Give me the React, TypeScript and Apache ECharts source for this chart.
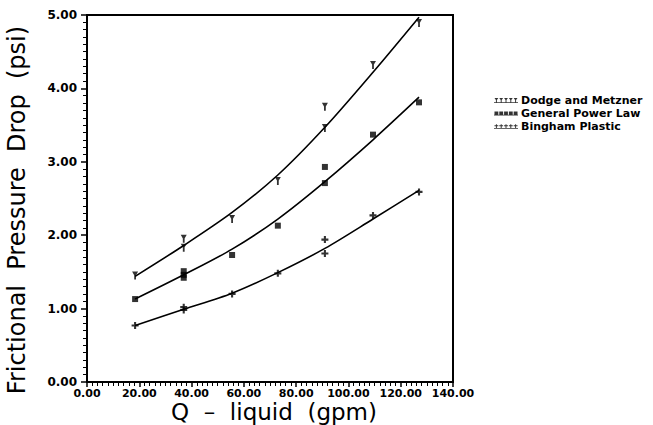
import React, { useEffect, useRef } from "react";
import * as echarts from "echarts";

const xTicks = [0, 20, 40, 60, 80, 100, 120, 140];
const yTicks = [0, 1, 2, 3, 4, 5];

const dodgeName = "Dodge and Metzner";
const powerName = "General Power Law";
const binghamName = "Bingham Plastic";

// measured points
const dodgePts: [number, number][] = [
  [18.4, 1.45], [37, 1.95], [37, 1.83], [55.5, 2.22], [73, 2.74], [91, 3.75], [91, 3.46], [109.4, 4.32], [127, 4.89],
];
const powerPts: [number, number][] = [
  [18.4, 1.13], [37, 1.51], [37, 1.46], [37, 1.42], [55.5, 1.73], [73, 2.13], [91, 2.93], [91, 2.71], [109.4, 3.37], [127, 3.81],
];
const binghamPts: [number, number][] = [
  [18.4, 0.77], [37, 1.02], [37, 0.98], [55.5, 1.2], [73, 1.48], [91, 1.94], [91, 1.75], [109.4, 2.27], [127, 2.59],
];

// fitted curves
const fitX = [18.4, 37, 55.5, 73, 91, 109.4, 127];
const dodgeFit = [1.44, 1.86, 2.31, 2.82, 3.47, 4.22, 4.97];
const powerFit = [1.13, 1.46, 1.81, 2.22, 2.73, 3.3, 3.88];
const binghamFit = [0.77, 0.99, 1.21, 1.49, 1.82, 2.22, 2.61];

const daggerSym = "path://M0,0L10,0L6.5,6L6.5,13L3.5,13L3.5,6Z";
const squareSym = "path://M0,0L10,0L10,10L0,10Z";
const plusSym = "path://M3.5,0L6.5,0L6.5,3.5L10,3.5L10,6.5L6.5,6.5L6.5,10L3.5,10L3.5,6.5L0,6.5L0,3.5L3.5,3.5Z";

const legendDagger =
  "path://M0,9L50,9L50,10.5L0,10.5Z M1,0L9,0L6,4L6,9L4,9L4,4Z M11,0L19,0L16,4L16,9L14,9L14,4Z M21,0L29,0L26,4L26,9L24,9L24,4Z M31,0L39,0L36,4L36,9L34,9L34,4Z M41,0L49,0L46,4L46,9L44,9L44,4Z";
const legendSquare =
  "path://M0,9L50,9L50,10.5L0,10.5Z M1,2L9,2L9,9L1,9Z M11,2L19,2L19,9L11,9Z M21,2L29,2L29,9L21,9Z M31,2L39,2L39,9L31,9Z M41,2L49,2L49,9L41,9Z";
const legendPlus =
  "path://M0,9L50,9L50,10.5L0,10.5Z M1,3L9,3L9,5L1,5Z M4,1L6,1L6,9L4,9Z M11,3L19,3L19,5L11,5Z M14,1L16,1L16,9L14,9Z M21,3L29,3L29,5L21,5Z M24,1L26,1L26,9L24,9Z M31,3L39,3L39,5L31,5Z M34,1L36,1L36,9L34,9Z M41,3L49,3L49,5L41,5Z M44,1L46,1L46,9L44,9Z";

const FONT = "DejaVu Sans";

export default function App() {
  const ref = useRef<HTMLDivElement>(null);
  useEffect(() => {
    document.body.style.margin = "0";
    const chart = echarts.init(ref.current!, null, { renderer: "svg" });
    const fitLine = (name: string, ys: number[]) => ({
      name,
      type: "line",
      data: fitX.map((x, i) => [x, ys[i]]),
      smooth: 0.3,
      showSymbol: false,
      lineStyle: { color: "#000", width: 1.6 },
      z: 2,
    });
    const pts = (name: string, d: [number, number][], symbol: string, size: any) => ({
      name,
      type: "scatter",
      data: d,
      symbol,
      symbolSize: size,
      itemStyle: { color: "#000" },
      z: 3,
    });
    chart.setOption({
      animation: false,
      backgroundColor: "#fff",
      grid: {
        left: 87,
        right: 200,
        top: 15,
        bottom: 43,
        show: true,
        borderColor: "#000",
        borderWidth: 2,
      },
      legend: {
        orient: "vertical",
        left: 489,
        top: 89,
        itemGap: 0,
        itemWidth: 24,
        itemHeight: 8,
        textStyle: {
          fontFamily: FONT,
          fontSize: 11,
          lineHeight: 13,
          fontWeight: "bold",
          color: "#000",
          padding: [0, 0, 0, -2],
        },
        data: [
          { name: dodgeName, icon: legendDagger },
          { name: powerName, icon: legendSquare },
          { name: binghamName, icon: legendPlus },
        ],
        selectedMode: false,
      },
      xAxis: {
        type: "value",
        min: xTicks[0],
        max: xTicks[xTicks.length - 1],
        interval: 20,
        axisLine: { lineStyle: { color: "#000", width: 2 } },
        axisTick: { length: 5, lineStyle: { color: "#000", width: 1.5 } },
        minorTick: { show: true, splitNumber: 10, length: 4, lineStyle: { color: "#000", width: 1 } },
        splitLine: { show: false },
        axisLabel: {
          color: "#000",
          fontFamily: FONT,
          fontSize: 11,
          lineHeight: 12,
          fontWeight: "bold",
          margin: 5,
          formatter: (v: number) => v.toFixed(2),
        },
      },
      yAxis: {
        type: "value",
        min: yTicks[0],
        max: yTicks[yTicks.length - 1],
        interval: 1,
        axisLine: { show: true, lineStyle: { color: "#000", width: 2 } },
        axisTick: { show: true, length: 6, lineStyle: { color: "#000", width: 1.5 } },
        minorTick: { show: true, splitNumber: 10, length: 4, lineStyle: { color: "#000", width: 1 } },
        splitLine: { show: false },
        axisLabel: {
          color: "#000",
          fontFamily: FONT,
          fontSize: 12,
          fontWeight: "bold",
          margin: 10,
          formatter: (v: number) => v.toFixed(2),
        },
      },
      graphic: [
        {
          type: "text",
          x: 17,
          y: 210,
          rotation: Math.PI / 2,
          style: {
            text: "Frictional  Pressure  Drop  (psi)",
            font: `24px "${FONT}"`,
            fill: "#000",
            align: "center",
            verticalAlign: "middle",
          },
        },
        {
          type: "text",
          x: 274,
          y: 400,
          style: {
            text: "Q  –  liquid  (gpm)",
            font: `23px "${FONT}"`,
            lineHeight: 24,
            fill: "#000",
            align: "center",
            verticalAlign: "top",
          },
        },
      ],
      series: [
        fitLine("Dodge fit", dodgeFit),
        fitLine("Power fit", powerFit),
        fitLine("Bingham fit", binghamFit),
        pts(dodgeName, dodgePts, daggerSym, [6, 8]),
        pts(powerName, powerPts, squareSym, 6),
        pts(binghamName, binghamPts, plusSym, 7),
      ],
    });
    return () => chart.dispose();
  }, []);
  return <div ref={ref} style={{ width: 653, height: 425 }} />;
}
